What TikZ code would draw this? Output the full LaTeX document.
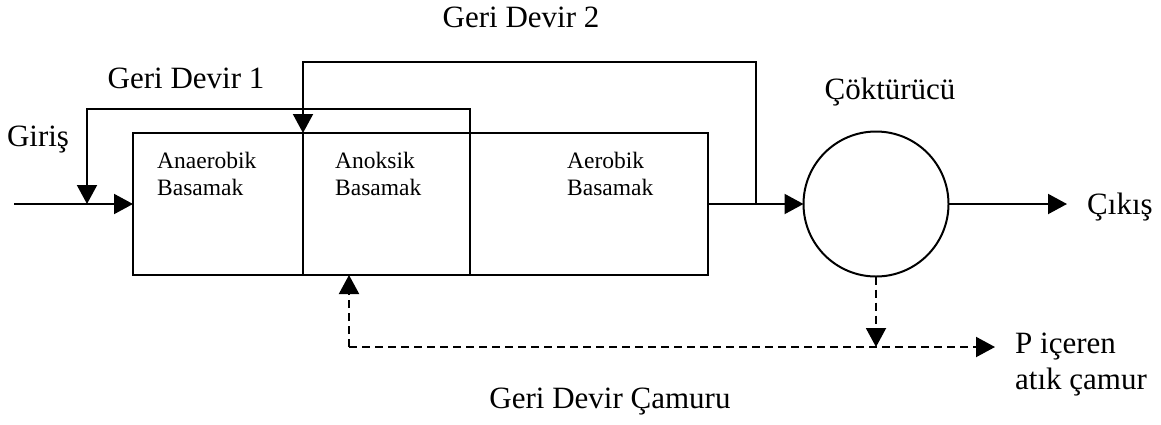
\documentclass[tikz,border=0pt]{standalone}
\usepackage{fontspec}
\setmainfont{Liberation Serif}
\usetikzlibrary{arrows.meta}
\newcommand\lblfont{\fontsize{31}{36}\selectfont}
\newcommand\stgfont{\fontsize{23.5}{27}\selectfont}
\begin{document}
\begin{tikzpicture}[x=1pt,y=-1pt,
  ln/.style={line width=2pt, line join=miter},
  arr/.style={ln, -{Triangle[length=19pt,width=20pt]}},
  dsh/.style={ln, dash pattern=on 8pt off 5pt},
  darr/.style={dsh, -{Triangle[length=19pt,width=20pt]}},
  stage/.style={draw, line width=2pt, rectangle, inner sep=0pt, outer sep=0pt, minimum height=142pt},
  lbl/.style={font=\lblfont, inner sep=0pt},
  stg/.style={font=\stgfont, inner sep=0pt, align=left, anchor=west}]
\useasboundingbox (0,0) rectangle (1161,424);
% stages
\node[stage, minimum width=170pt] (anaer) at (218,204) {};
\node[stage, minimum width=167pt] (anox) at (386.5,204) {};
\node[stage, minimum width=238pt] (aer) at (589,204) {};
\node[draw, circle, line width=2pt, minimum size=145pt, inner sep=0pt, outer sep=0pt] (sett) at (876,204) {};
% stage texts
\node[stg] (t1) at (157,173.5) {Anaerobik\\Basamak};
\node[stg] (t2) at (335,173.5) {Anoksik\\Basamak};
\node[stg] (t3) at (567,173.5) {Aerobik\\Basamak};
% labels
\node[lbl] (giris) at (38,140) {Giriş};
\node[lbl] (gd1) at (186,78) {Geri Devir 1};
\node[lbl] (gd2) at (521,17) {Geri Devir 2};
\node[lbl] (cokt) at (890,92) {Çöktürücü};
\node[lbl, anchor=west] (cikis) at (1087,207) {Çıkış};
\node[lbl, anchor=west, align=left] (pic) at (1015,365) {P içeren\\atık çamur};
\node[lbl] (gdc) at (610,402) {Geri Devir Çamuru};
% coordinates
\coordinate (in) at (14,204);
\coordinate (j1) at (87,204);
\coordinate (gd1top) at (470,109);
\coordinate (j2) at (756,204);
\coordinate (gd2top) at (756,62);
\coordinate (out) at (1067,204);
\coordinate (ret) at (349,347);
\coordinate (waste) at (995,347);
% main flow
\draw[arr] (in) -- (anaer.west);
\draw[arr] (aer.east) -- (sett.west);
\draw[arr] (sett.east) -- (out);
% recycle 1
\draw[arr] (anox.north east) -- (gd1top) -| (j1);
% recycle 2
\draw[arr] (j2) -- (gd2top) -| (anox.north west);
% sludge
\draw[darr] (sett.south) -- (sett.south |- ret);
\draw[darr] (ret) -- (waste);
\draw[darr] (ret) -- (ret |- anox.south);
\end{tikzpicture}
\end{document}
